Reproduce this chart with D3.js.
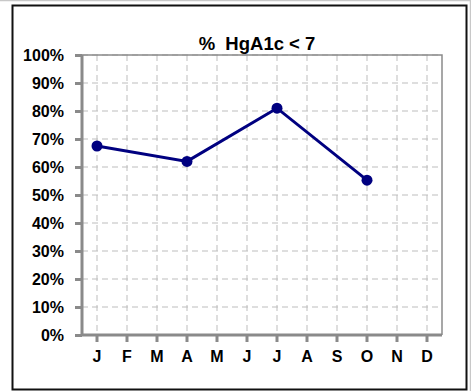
<!DOCTYPE html>
<html><head><meta charset="utf-8">
<script src="https://cdn.jsdelivr.net/npm/d3@7"></script>
<style>html,body{margin:0;padding:0;background:#fff;}svg{display:block;}</style>
</head><body>
<script>
const months = ["J","F","M","A","M","J","J","A","S","O","N","D"];
const monthKeys = ["Jan","Feb","Mar","Apr","May","Jun","Jul","Aug","Sep","Oct","Nov","Dec"];
const seriesKeys = ["Jan","Apr","Jul","Oct"];
const seriesValues = [0.675, 0.62, 0.81, 0.553];
const yTicks = [0,0.1,0.2,0.3,0.4,0.5,0.6,0.7,0.8,0.9,1.0];
const title = "%  HgA1c < 7";

const W = 471, H = 391;
const svg = d3.select("body").append("svg").attr("width", W).attr("height", H);
svg.append("rect").attr("x",0).attr("y",0).attr("width",W).attr("height",H).attr("fill","#fff");
svg.append("line").attr("x1",0).attr("x2",W).attr("y1",0.5).attr("y2",0.5).attr("stroke","#c8c8c8").attr("stroke-width",1.5);
svg.append("line").attr("x1",W-0.5).attr("x2",W-0.5).attr("y1",0).attr("y2",H).attr("stroke","#c8c8c8").attr("stroke-width",1.5);
svg.append("rect").attr("x",12.5).attr("y",5.5).attr("width",454).attr("height",384)
  .attr("fill","none").attr("stroke","#111").attr("stroke-width",2);

const L = 82, R = 442, T = 55, B = 335;
const x = d3.scaleBand().domain(monthKeys).range([L, R]);
const y = d3.scaleLinear().domain([0,1]).range([B, T]);
const cx = k => x(k) + x.bandwidth()/2;

const g = svg.append("g");
g.selectAll(".hg").data(yTicks.slice(1)).join("line")
  .attr("x1",L).attr("x2",R).attr("y1",d=>y(d)).attr("y2",d=>y(d))
  .attr("stroke","#bdbdbd").attr("stroke-width",1).attr("stroke-dasharray","6,4");
g.selectAll(".vg").data(monthKeys).join("line")
  .attr("x1",d=>cx(d)).attr("x2",d=>cx(d)).attr("y1",T).attr("y2",B)
  .attr("stroke","#bdbdbd").attr("stroke-width",1).attr("stroke-dasharray","6,4");

svg.append("path").attr("d",`M${L},${T}H${R}V${B}`).attr("fill","none").attr("stroke","#8a8a8a").attr("stroke-width",1.5);

const yAxis = d3.axisLeft(y).tickValues(yTicks).tickFormat(d3.format(".0%")).tickSize(7).tickPadding(11);
const xAxis = d3.axisBottom(x).tickFormat((d,i)=>months[i]).tickSize(7).tickPadding(9);
const ya = svg.append("g").attr("transform",`translate(${L},0)`).call(yAxis);
const xa = svg.append("g").attr("transform",`translate(0,${B})`).call(xAxis);
[ya, xa].forEach(a=>{
  a.select(".domain").attr("stroke","#8a8a8a").attr("stroke-width",3);
  a.selectAll(".tick line").attr("stroke","#8a8a8a").attr("stroke-width",3);
  a.selectAll("text").attr("font-family","Liberation Sans, Arial, sans-serif")
    .attr("font-weight","bold").attr("font-size","16px").attr("fill","#000");
});
ya.select(".domain").attr("d",`M0,${T}V${B}`);
xa.select(".domain").attr("d",`M${L},0H${R}`);

const pts = seriesKeys.map((k,i)=>({k, v: seriesValues[i]}));
svg.append("path").datum(pts)
  .attr("d", d3.line().x(d=>cx(d.k)).y(d=>y(d.v)))
  .attr("fill","none").attr("stroke","#000080").attr("stroke-width",3);
svg.selectAll(".pt").data(pts).join("circle")
  .attr("cx",d=>cx(d.k)).attr("cy",d=>y(d.v)).attr("r",5.5).attr("fill","#000080");

svg.append("text").attr("x",257).attr("y",50).attr("text-anchor","middle")
  .attr("font-family","Liberation Sans, Arial, sans-serif").attr("font-weight","bold")
  .attr("font-size","18.5px").style("white-space","pre").text(title);
</script>
</body></html>
